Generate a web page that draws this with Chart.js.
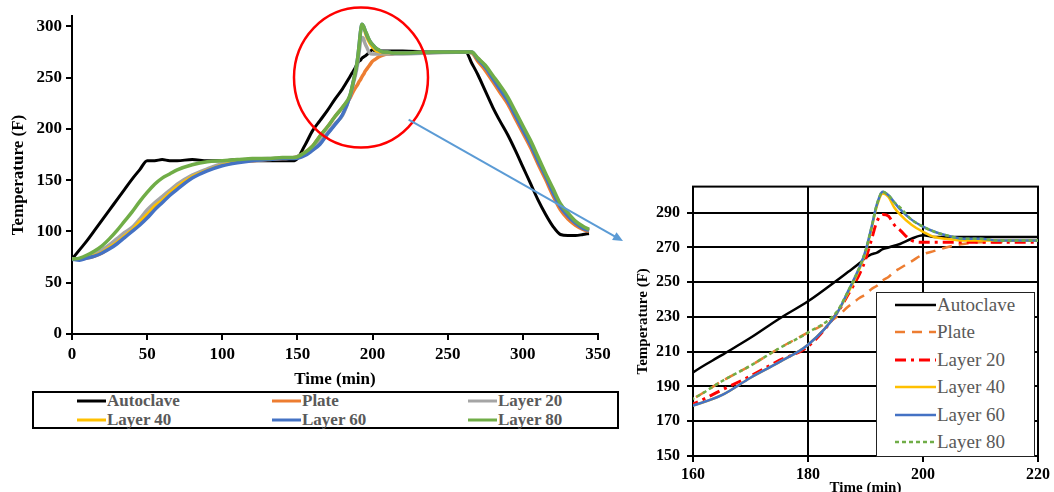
<!DOCTYPE html>
<html>
<head>
<meta charset="utf-8">
<script src="https://cdn.jsdelivr.net/npm/chart.js@4.4.0/dist/chart.umd.min.js"></script>
<style>
  body { margin: 0; width: 1054px; height: 492px; overflow: hidden; background: #fff; position: relative;
         font-family: "Liberation Serif", "Times New Roman", serif; }
  #mainChart { position: absolute; left: 0; top: 0; }
  #zoomChart { position: absolute; left: 630px; top: 170px; }
  .box { position: absolute; box-sizing: border-box; background: #fff; }
  .item { position: absolute; display: flex; align-items: center; white-space: nowrap; color: #595959; }
  .item svg { display: block; }
  .main-item { height: 19px; font-size: 17px; font-weight: bold; line-height: 19px; }
  .zoom-item { height: 24px; font-size: 19px; font-weight: normal; line-height: 24px; }
</style>
</head>
<body>
<canvas id="mainChart" width="630" height="392"></canvas>
<canvas id="zoomChart" width="424" height="332"></canvas>
<div id="mainLegend"></div>
<div id="zoomLegend"></div>
<script>
// time (min) shared by every series
const time = [0, 5, 10, 15, 20, 25, 30, 35, 40, 45,
  50, 55, 60, 65, 70, 80, 90, 100, 110, 120,
  130, 140, 148, 155, 160, 165, 170, 175, 180, 185,
  187, 189, 190, 191, 192, 193, 194, 195, 196, 198,
  200, 202, 204, 207, 210, 213, 216, 220, 240, 262,
  266, 270, 275, 280, 285, 290, 295, 300, 305, 310,
  315, 320, 325, 330, 335, 340, 344];

// temperatures (F)
const autoclave = [73, 82, 91, 101, 111, 121, 131, 141, 151, 160,
  169, 169, 170, 169, 169, 170, 169, 169, 170, 169,
  169, 169, 169, 184, 198, 208, 218, 229, 239, 251,
  256, 261, 264, 266, 267, 269, 270, 271, 272, 275,
  277, 276, 276, 276, 276, 276, 276, 276, 275, 275,
  264, 253, 237, 221, 207, 194, 179, 163, 147, 131,
  117, 105, 97, 96, 96, 97, 98];
const plate = [73, 73, 74, 76, 79, 84, 89, 95, 101, 108,
  116, 124, 130, 137, 143, 153, 160, 165, 168, 169,
  170, 171, 172, 177, 183, 193, 202, 212, 221, 230,
  236, 241, 243, 246, 248, 251, 253, 256, 258, 262,
  266, 268, 270, 272, 273, 273, 274, 274, 275, 275,
  274, 266, 257, 246, 235, 224, 210, 196, 182, 166,
  151, 135, 121, 112, 106, 102, 100];
const layer20 = [73, 73, 75, 78, 82, 87, 93, 99, 104, 112,
  121, 128, 134, 140, 146, 155, 161, 166, 168, 170,
  171, 171, 172, 176, 180, 188, 196, 205, 213, 232,
  243, 255, 263, 274, 285, 289, 288, 283, 280, 274,
  273, 273, 273, 273, 273, 273, 273, 273, 274, 275,
  274, 269, 261, 250, 239, 228, 214, 200, 186, 170,
  155, 139, 125, 116, 109, 104, 101];
const layer40 = [73, 73, 74, 77, 80, 85, 90, 96, 102, 110,
  117, 125, 131, 138, 144, 154, 160, 165, 168, 169,
  170, 171, 172, 175, 179, 185, 195, 204, 214, 232,
  244, 258, 267, 280, 294, 301, 299, 293, 289, 283,
  279, 276, 275, 274, 274, 274, 274, 274, 275, 275,
  274, 269, 261, 250, 239, 228, 214, 200, 186, 170,
  155, 139, 125, 116, 109, 104, 101];
const layer60 = [73, 72, 74, 76, 79, 83, 88, 94, 100, 106,
  113, 121, 128, 135, 141, 152, 159, 164, 167, 169,
  170, 171, 171, 174, 179, 185, 195, 204, 214, 232,
  245, 259, 268, 281, 295, 302, 300, 296, 292, 286,
  282, 279, 277, 275, 275, 274, 274, 274, 275, 275,
  275, 268, 260, 249, 238, 227, 213, 199, 185, 169,
  154, 138, 124, 115, 108, 103, 101];
const layer80 = [73, 74, 77, 81, 86, 93, 101, 110, 119, 129,
  138, 146, 152, 156, 160, 165, 168, 169, 170, 171,
  171, 172, 172, 177, 183, 193, 202, 212, 221, 233,
  245, 259, 268, 281, 295, 302, 300, 296, 293, 286,
  282, 279, 277, 275, 275, 274, 274, 274, 275, 275,
  275, 269, 262, 252, 242, 231, 217, 203, 189, 173,
  157, 142, 127, 118, 110, 105, 102];

const seriesNames = ['Autoclave', 'Plate', 'Layer 20', 'Layer 40', 'Layer 60', 'Layer 80'];
const mainTicksX = [0, 50, 100, 150, 200, 250, 300, 350];
const mainTicksY = [0, 50, 100, 150, 200, 250, 300];
const zoomTicksX = [160, 180, 200, 220];
const zoomTicksY = [150, 170, 190, 210, 230, 250, 270, 290];

const allSeries = [autoclave, plate, layer20, layer40, layer60, layer80];
const mainColors = ['#000000', '#ED7D31', '#A5A5A5', '#FFC000', '#4472C4', '#70AD47'];
const zoomColors = ['#000000', '#ED7D31', '#FF0000', '#FFC000', '#4472C4', '#70AD47'];
const zoomDashes = [[], [10, 7], [11, 5, 3, 5], [], [], [4, 3]];
const SERIF = "'Liberation Serif', 'Times New Roman', serif";

function makeDatasets(colors, widths, dashes) {
  return allSeries.map((vals, i) => ({
    label: seriesNames[i],
    data: time.map((t, j) => ({ x: t, y: vals[j] })),
    borderColor: colors[i],
    backgroundColor: colors[i],
    borderWidth: widths[i],
    borderDash: dashes[i],
    pointRadius: 0,
    cubicInterpolationMode: 'monotone',
    order: allSeries.length - 1 - i   // last series on top, like the original
  }));
}

function axis(min, max, tickList, size, fontSize, titleText, titleSize, titlePad, onArea) {
  return {
    type: 'linear', min: min, max: max,
    afterBuildTicks: s => { s.ticks = tickList.map(v => ({ value: v })); },
    afterFit: s => { if (s.isHorizontal()) s.height = size; else s.width = size; },
    grid: { display: true, drawOnChartArea: onArea, color: '#000', lineWidth: 2,
            tickLength: 6, tickColor: '#000', tickWidth: 2 },
    border: { display: true, color: '#000', width: 2 },
    ticks: { color: '#000', font: { family: SERIF, size: fontSize, weight: 'bold' },
             padding: 4, maxRotation: 0, autoSkip: false },
    title: { display: true, text: titleText, color: '#000',
             font: { family: SERIF, size: titleSize, weight: 'bold' }, padding: titlePad }
  };
}

// red circle and blue arrow over the main chart
const calloutPlugin = {
  id: 'callout',
  afterDatasetsDraw(chart) {
    const { ctx, scales: { x, y } } = chart;
    ctx.save();
    ctx.strokeStyle = '#FF0000';
    ctx.lineWidth = 2.5;
    ctx.beginPath();
    ctx.ellipse(x.getPixelForValue(192.3), y.getPixelForValue(250), 67, 70, 0, 0, Math.PI * 2);
    ctx.stroke();

    const x0 = x.getPixelForValue(224), y0 = y.getPixelForValue(209);
    const x1 = 623, y1 = 241;
    const a = Math.atan2(y1 - y0, x1 - x0);
    ctx.strokeStyle = '#5B9BD5';
    ctx.fillStyle = '#5B9BD5';
    ctx.lineWidth = 2;
    ctx.beginPath();
    ctx.moveTo(x0, y0);
    ctx.lineTo(x1 - 8 * Math.cos(a), y1 - 8 * Math.sin(a));
    ctx.stroke();
    ctx.beginPath();
    ctx.moveTo(x1, y1);
    ctx.lineTo(x1 - 10 * Math.cos(a) + 4.5 * Math.sin(a), y1 - 10 * Math.sin(a) - 4.5 * Math.cos(a));
    ctx.lineTo(x1 - 10 * Math.cos(a) - 4.5 * Math.sin(a), y1 - 10 * Math.sin(a) + 4.5 * Math.cos(a));
    ctx.closePath();
    ctx.fill();
    ctx.restore();
  }
};

// plot frame for the zoomed chart
const framePlugin = {
  id: 'frame',
  beforeDatasetsDraw(chart) {
    const { ctx, chartArea: a } = chart;
    ctx.save();
    ctx.strokeStyle = '#000';
    ctx.lineWidth = 2;
    ctx.strokeRect(a.left, a.top, a.right - a.left, a.bottom - a.top);
    ctx.restore();
  }
};

new Chart(document.getElementById('mainChart'), {
  type: 'line',
  data: { datasets: makeDatasets(mainColors, [3, 3.5, 3.5, 2.5, 3.5, 3.5], [[], [], [], [], [], []]) },
  options: {
    responsive: false,
    animation: false,
    layout: { padding: { top: 16, right: 32, left: 0, bottom: 0 } },
    plugins: { legend: { display: false }, tooltip: { enabled: false } },
    scales: {
      x: axis(0, 350, mainTicksX, 58, 17, 'Time (min)', 17, { top: 0, bottom: 2 }, false),
      y: axis(0, 310, mainTicksY, 72, 17, 'Temperature (F)', 17, { top: 8, bottom: 0 }, false)
    }
  },
  plugins: [calloutPlugin]
});

const zx = axis(160, 220, zoomTicksX, 46, 16, 'Time (min)', 15, { top: 0, bottom: 5 }, true);
const zy = axis(150, 305, zoomTicksY, 63, 16, 'Temperature (F)', 15, { top: 4, bottom: 0 }, true);
zx.ticks.padding = 3;
zy.ticks.padding = 7;

new Chart(document.getElementById('zoomChart'), {
  type: 'line',
  data: { datasets: makeDatasets(zoomColors, [2.5, 2.5, 3, 2.5, 2.5, 2.5], zoomDashes) },
  options: {
    responsive: false,
    animation: false,
    layout: { padding: { top: 6, right: 16, left: 0, bottom: 0 } },
    plugins: { legend: { display: false }, tooltip: { enabled: false } },
    scales: { x: zx, y: zy }
  },
  plugins: [framePlugin]
});

// legends
function sample(color, dash, w, len) {
  return '<svg width="' + len + '" height="8"><line x1="0" y1="4" x2="' + len + '" y2="4" stroke="' + color +
    '" stroke-width="' + w + '" stroke-dasharray="' + (dash.length ? dash.join(' ') : 'none') + '"/></svg>';
}

let html = '<div class="box" style="left:32px;top:391px;width:587px;height:38px;border:2px solid #000;"></div>';
const mainCols = [77, 272, 468];
const mainRows = [391, 410];
seriesNames.forEach((name, i) => {
  const left = mainCols[i % 3], top = mainRows[Math.floor(i / 3)];
  html += '<div class="item main-item" style="left:' + left + 'px;top:' + top + 'px;">' +
    sample(mainColors[i], [], 3, 29) + '<span style="margin-left:1px">' + name + '</span></div>';
});
document.getElementById('mainLegend').innerHTML = html;

html = '<div class="box" style="left:876px;top:292px;width:159px;height:165px;border:1px solid #222;"></div>';
seriesNames.forEach((name, i) => {
  const center = 305 + i * 27.4;
  html += '<div class="item zoom-item" style="left:895px;top:' + (center - 12) + 'px;">' +
    sample(zoomColors[i], zoomDashes[i], i === 2 ? 3 : 2.5, 41) + '<span style="margin-left:1px">' + name + '</span></div>';
});
document.getElementById('zoomLegend').innerHTML = html;
</script>
</body>
</html>
